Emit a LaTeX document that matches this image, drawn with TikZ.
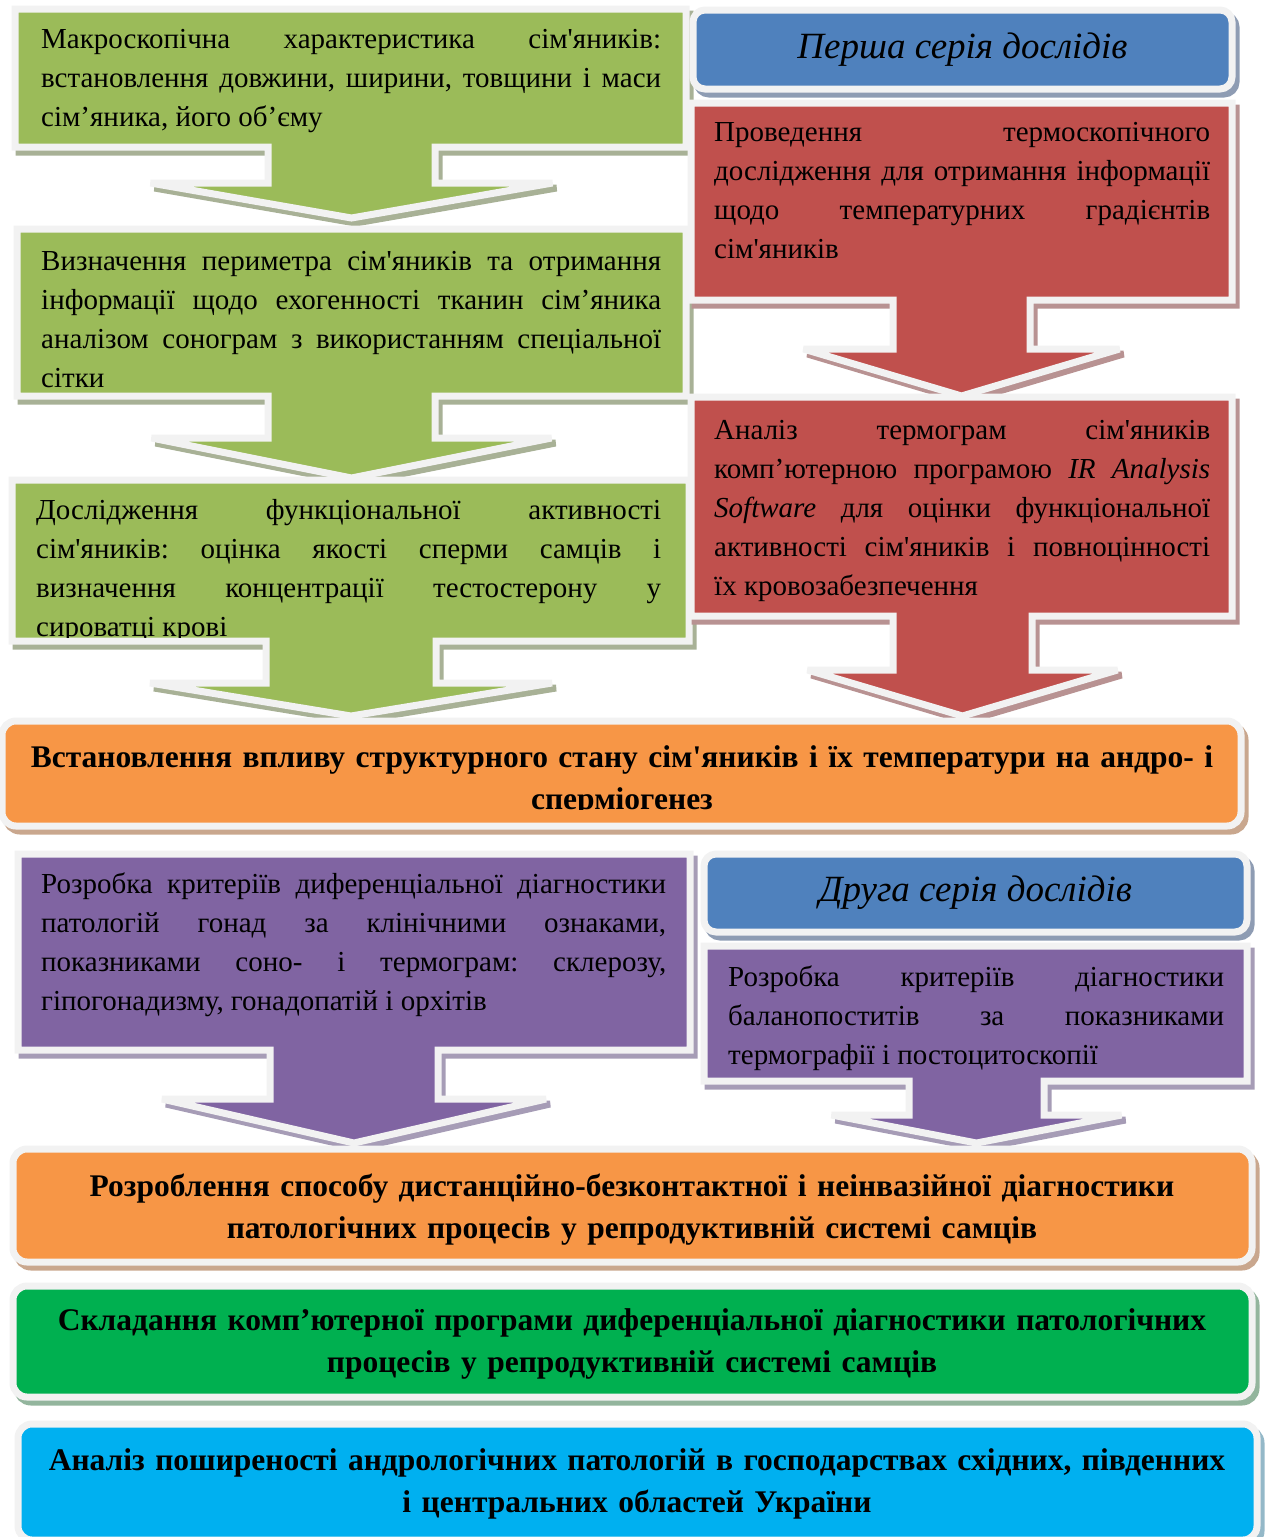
\documentclass[tikz,border=0pt]{standalone}
\usepackage{fontspec}
\setmainfont{Liberation Serif}[Ligatures=TeXOff]
\definecolor{cgreen}{HTML}{9BBB59}
\definecolor{cred}{HTML}{C0504D}
\definecolor{cblue}{HTML}{4F81BD}
\definecolor{cpurple}{HTML}{8064A2}
\definecolor{corange}{HTML}{F79646}
\definecolor{cdgreen}{HTML}{00B050}
\definecolor{ccyan}{HTML}{00B0F0}
\definecolor{bord}{HTML}{F2F2F2}
\definecolor{gsh}{HTML}{A8B196}
\definecolor{rsh}{HTML}{B89292}
\definecolor{psh}{HTML}{A69CB6}
\definecolor{bsh}{HTML}{8E9CB3}
\definecolor{osh}{HTML}{C9A78E}
\definecolor{dgsh}{HTML}{93B59D}
\definecolor{csh}{HTML}{94B8C8}
\hyphenpenalty=10000
\exhyphenpenalty=10000
\frenchspacing
% callout path: left, top, right, bottom, stem left, stem right, head y, half wing, tip y
\newcommand\cpath[9]{(#1,#2) -- (#3,#2) -- (#3,#4) -- (#6,#4) -- (#6,#7) -- ({(#5+#6)/2+#8},#7) -- ({(#5+#6)/2},#9) -- ({(#5+#6)/2-#8},#7) -- (#5,#7) -- (#5,#4) -- (#1,#4) -- cycle}
\tikzset{
  brd/.style={draw=bord, line width=7pt, miter limit=3},
  shd/.style={draw=#1, fill=#1, line width=7pt, miter limit=3, shift={(4,5)}},
  bodytext/.style={anchor=north west, inner sep=0pt, align=justify, font=\fontsize{29}{39}\selectfont\frenchspacing},
  headtext/.style={anchor=north, inner sep=0pt, align=center, text width=1230pt, font=\fontsize{31.5}{42}\selectfont\bfseries},
  rbox/.style={brd, rounded corners=12pt, inner sep=0pt},
  serieshead/.style={font=\fontsize{37}{42}\selectfont\itshape}
}
\begin{document}
\begin{tikzpicture}[x=1pt,y=-1pt]
\useasboundingbox (0,0) rectangle (1267,1537);

% ---------- green column ----------
\path[shd=gsh] \cpath{15}{9}{686}{147}{268}{435}{183}{201}{218};
\path[brd, fill=cgreen] \cpath{15}{9}{686}{147}{268}{435}{183}{201}{218};
\node[bodytext, text width=620pt] (g1) at (41,21) {\strut Макроскопічна характеристика сім'яників:\linebreak встановлення довжини, ширини, товщини і маси\linebreak сім’яника, його об’єму};

\path[shd=gsh] \cpath{17}{229}{686}{396}{268}{435}{438}{200}{478};
\path[brd, fill=cgreen] \cpath{17}{229}{686}{396}{268}{435}{438}{200}{478};
\node[bodytext, text width=620pt] (g2) at (41,243) {\strut Визначення периметра сім'яників та отримання\linebreak інформації щодо ехогенності тканин сім’яника\linebreak аналізом сонограм з використанням спеціальної\linebreak сітки};

% ---------- red column ----------
\path[shd=bsh, rounded corners=12pt] (693,10) rectangle (1232,89);
\node[rbox, fill=cblue, minimum width=539pt, minimum height=79pt, serieshead] (s1) at (962.5,49.5) {Перша серія дослідів};

\path[shd=rsh] \cpath{691}{103}{1232}{300}{893}{1030}{349}{158}{396};
\path[brd, fill=cred] \cpath{691}{103}{1232}{300}{893}{1030}{349}{158}{396};
\node[bodytext, text width=496pt] (r1) at (714,114) {\strut Проведення термоскопічного\linebreak дослідження для отримання інформації\linebreak щодо температурних градієнтів\linebreak сім'яників};

\path[shd=gsh] \cpath{12}{480}{689}{641}{266}{436}{683}{201}{716};
\path[brd, fill=cgreen] \cpath{12}{480}{689}{641}{266}{436}{683}{201}{716};
\begin{scope}
\clip (15,483) rectangle (686,637);
\node[bodytext, text width=625pt] (g3) at (36,492) {\strut Дослідження функціональної активності\linebreak сім'яників: оцінка якості сперми самців і\linebreak визначення концентрації тестостерону у\linebreak сироватці крові};
\end{scope}

\path[shd=rsh] \cpath{691}{397}{1232}{616}{893}{1032}{670}{155}{716};
\path[brd, fill=cred] \cpath{691}{397}{1232}{616}{893}{1032}{670}{155}{716};
\node[bodytext, text width=496pt] (r2) at (714,412) {\strut Аналіз термограм сім'яників\linebreak комп’ютерною програмою \textit{IR Analysis}\linebreak \textit{Software} для оцінки функціональної\linebreak активності сім'яників і повноцінності\linebreak їх кровозабезпечення};

% ---------- orange 1 ----------
\path[shd=osh, rounded corners=14pt] (2,721) rectangle (1241,826);
\node[rbox, fill=corange, rounded corners=14pt, minimum width=1239pt, minimum height=105pt] (o1) at (621.5,773.5) {};
\begin{scope}
\clip (5,724) rectangle (1238,809);
\node[headtext] (o1t) at (622,738) {\strut Встановлення впливу структурного стану сім'яників і їх температури на андро- і\\ сперміогенез};
\end{scope}

% ---------- purple ----------
\path[shd=psh] \cpath{18}{854}{690}{1050}{270}{438}{1099}{192}{1143};
\path[brd, fill=cpurple] \cpath{18}{854}{690}{1050}{270}{438}{1099}{192}{1143};
\node[bodytext, text width=625pt] (p1) at (41,866) {\strut Розробка критеріїв диференціальної діагностики\linebreak патологій гонад за клінічними ознаками,\linebreak показниками соно- і термограм: склерозу,\linebreak гіпогонадизму, гонадопатій і орхітів};

\path[shd=bsh, rounded corners=12pt] (704,854) rectangle (1247,932);
\node[rbox, fill=cblue, minimum width=543pt, minimum height=78pt, serieshead] (s2) at (975.5,893) {Друга серія дослідів};

\path[shd=psh, miter limit=10] \cpath{704}{946}{1247}{1081}{909}{1044}{1115}{145}{1143};
\path[brd, fill=cpurple] \cpath{704}{946}{1247}{1081}{909}{1044}{1115}{145}{1143};
\node[bodytext, text width=496pt] (p2) at (728,959) {\strut Розробка критеріїв діагностики\linebreak баланопоститів за показниками\linebreak термографії і постоцитоскопії};

% ---------- bottom boxes ----------
\path[shd=osh, rounded corners=14pt] (13,1149) rectangle (1252,1262);
\node[rbox, fill=corange, rounded corners=14pt, minimum width=1239pt, minimum height=113pt] (o2) at (632.5,1205.5) {};
\node[headtext] (o2t) at (632,1167) {\strut Розроблення способу дистанційно-безконтактної і неінвазійної діагностики\\ патологічних процесів у репродуктивній системі самців};

\path[shd=dgsh, rounded corners=14pt] (13,1286) rectangle (1252,1397);
\node[rbox, fill=cdgreen, rounded corners=14pt, minimum width=1239pt, minimum height=111pt] (dg) at (632.5,1341.5) {};
\node[headtext] (dgt) at (632,1301) {\strut Складання комп’ютерної програми диференціальної діагностики патологічних\\ процесів у репродуктивній системі самців};

\path[shd=csh, rounded corners=14pt] (18,1424) rectangle (1257,1540);
\node[rbox, fill=ccyan, rounded corners=14pt, minimum width=1239pt, minimum height=116pt] (cy) at (637.5,1482) {};
\node[headtext] (cyt) at (637,1441) {\strut Аналіз поширеності андрологічних патологій в господарствах східних, південних\\ і центральних областей України};
\end{tikzpicture}
\end{document}
